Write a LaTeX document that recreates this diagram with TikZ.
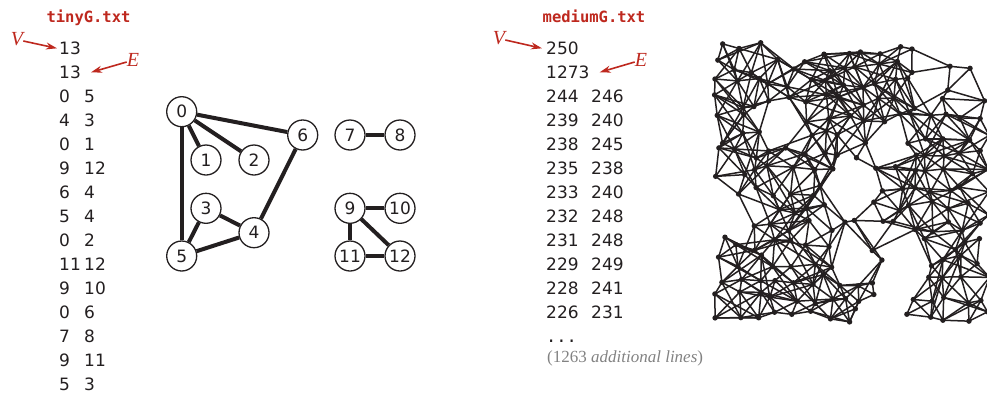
\documentclass[tikz,border=0pt]{standalone}
\usepackage{fontspec}
\usetikzlibrary{arrows.meta}
\newfontfamily\listfont{DejaVu Sans}
\newfontfamily\filefont{DejaVu Sans Mono}
\newfontfamily\notefont{Liberation Serif}
\definecolor{bookred}{RGB}{190,40,30}
\definecolor{ink}{RGB}{35,31,32}
\definecolor{notegray}{RGB}{130,130,130}
\tikzset{
  vert/.style={circle, draw=ink, line width=1.3pt, fill=white, minimum size=30pt,
    inner sep=0pt, text=ink, font=\listfont\fontsize{17}{17}\selectfont},
  gedge/.style={draw=ink, line width=4pt},
  datum/.style={anchor=base west, inner sep=0pt, text=ink,
    font=\listfont\fontsize{17}{17}\selectfont},
  fname/.style={anchor=base, inner sep=0pt, text=bookred,
    font=\filefont\bfseries\fontsize{15.5}{15.5}\selectfont},
  marker/.style={inner sep=0pt, text=bookred, font=\notefont\itshape\fontsize{20}{20}\selectfont},
  pointer/.style={-{Stealth[length=11pt,width=7pt]}, draw=bookred, line width=1.6pt},
  medge/.style={draw=ink, line width=1.5pt},
}
% keep a link of the big graph only if the far end exists
\newcommand\mlink[3]{\ifcsname pgf@sh@ns@#2\endcsname
  \pgfmathtruncatemacro\keep{rnd<#3}\ifnum\keep=1 \draw[medge] (#1) -- (#2);\fi\fi}
\begin{document}
\begin{tikzpicture}[x=1pt,y=-1pt]
\useasboundingbox (0,0) rectangle (987,394);

% tinyG.txt
\node[fname] (tfile) at (88.5,22.5) {tinyG.txt};
\node[datum] (tn1) at (59,54.5) {13};
\node[datum] (tn2) at (59,78.5) {13};
\foreach \a/\b [count=\n from 2] in {0/5,4/3,0/1,9/12,6/4,5/4,0/2,11/12,9/10,0/6,7/8,9/11,5/3}{
  \node[datum] (tl\n) at (59,54.5+24*\n) {\a};
  \node[datum] (tr\n) at (84,54.5+24*\n) {\b};
}
\node[marker] (tV) at (17,39) {V};
\node[marker] (tE) at (133,60) {E};
\draw[pointer] ([yshift=-2pt]tV.east) -- ([xshift=-2pt]tn1.west);
\draw[pointer] ([yshift=-2pt]tE.west) -- ([xshift=10pt]tn2.east);

% the small graph
\node[vert] (t0) at (181.7,111.7) {0};
\node[vert] (t1) at (206,160) {1};
\node[vert] (t2) at (254,160) {2};
\node[vert] (t6) at (302.7,135) {6};
\node[vert] (t3) at (206,208.3) {3};
\node[vert] (t4) at (254,232.7) {4};
\node[vert] (t5) at (181.7,256) {5};
\node[vert] (t7) at (350,135) {7};
\node[vert] (t8) at (400,135) {8};
\node[vert] (t9) at (350,208.3) {9};
\node[vert] (t10) at (400,208.3) {10};
\node[vert] (t11) at (350,256) {11};
\node[vert] (t12) at (400,256) {12};
\foreach \u/\v in {0/5,4/3,0/1,9/12,6/4,5/4,0/2,11/12,9/10,0/6,7/8,9/11,5/3}
  \draw[gedge] (t\u) -- (t\v);

% mediumG.txt
\node[fname] (mfile) at (594,22.5) {mediumG.txt};
\node[datum] (mn1) at (546,54.5) {250};
\node[datum] (mn2) at (546,78.5) {1273};
\foreach \a/\b [count=\n from 2] in {244/246,239/240,238/245,235/238,233/240,232/248,231/248,229/249,228/241,226/231}{
  \node[datum] (ml\n) at (546,54.5+24*\n) {\a};
  \node[datum] (mr\n) at (591,54.5+24*\n) {\b};
}
\node[datum, font=\filefont\fontsize{17}{17}\selectfont] (mdots) at (546,342.5) {...};
\node[anchor=base west, inner sep=0pt, text=notegray, font=\notefont\fontsize{17}{17}\selectfont]
  (mnote) at (547,362) {(1263 \textit{additional lines})};
\node[marker] (mV) at (499,38) {V};
\node[marker] (mE) at (641,60) {E};
\draw[pointer] ([yshift=-2pt]mV.east) -- ([xshift=-4pt]mn1.west);
\draw[pointer] ([yshift=-2pt]mE.west) -- ([xshift=10pt]mn2.east);

% the big graph: jittered points, holes left out
\pgfmathsetseed{42}
\foreach \j/\cols in {0/{0,1,2,6,7,8,9,10,11},
    1/{0,...,11,13,14},
    2/{0,...,11,13},
    3/{0,...,11,13,15},
    4/{0,1,5,6,...,15},
    5/{0,1,2,5,6,7,8,11,12,13,14,15},
    6/{0,...,8,11,12,13,14,15},
    7/{0,...,6,9,10,...,15},
    8/{1,...,6,9,10,...,15},
    9/{3,4,5,6,9,10,...,15},
    10/{2,...,15},
    11/{0,...,6,9,12,13,14,15},
    12/{0,...,6,9,12,13,14,15},
    13/{0,...,9,12,13,14,15},
    14/{0,...,9,11,12,...,15},
    15/{0,...,8,11,12,...,15}}{
  \foreach \i in \cols {
    \pgfmathsetmacro\mx{721+17.5*\i+7*rand}
    \pgfmathsetmacro\my{48+17.8*\j+7*rand}
    \coordinate (m-\i-\j) at (\mx,\my);
  }
}
\foreach \j in {0,...,15}{
  \foreach \i in {0,...,15}{
    \ifcsname pgf@sh@ns@m-\i-\j\endcsname
      \pgfmathtruncatemacro\ip{\i+1}
      \pgfmathtruncatemacro\iq{\i+2}
      \pgfmathtruncatemacro\im{\i-1}
      \pgfmathtruncatemacro\in{\i-2}
      \pgfmathtruncatemacro\jp{\j+1}
      \pgfmathtruncatemacro\jq{\j+2}
      \mlink{m-\i-\j}{m-\ip-\j}{0.95}
      \mlink{m-\i-\j}{m-\i-\jp}{0.95}
      \mlink{m-\i-\j}{m-\ip-\jp}{0.85}
      \mlink{m-\i-\j}{m-\im-\jp}{0.85}
      \mlink{m-\i-\j}{m-\iq-\j}{0.35}
      \mlink{m-\i-\j}{m-\iq-\jp}{0.35}
      \mlink{m-\i-\j}{m-\in-\jp}{0.35}
      \mlink{m-\i-\j}{m-\ip-\jq}{0.35}
      \mlink{m-\i-\j}{m-\im-\jq}{0.35}
    \fi
  }
}
\foreach \j in {0,...,15}{
  \foreach \i in {0,...,15}{
    \ifcsname pgf@sh@ns@m-\i-\j\endcsname
      \fill[ink] (m-\i-\j) circle (2.7pt);
    \fi
  }
}
\end{tikzpicture}
\end{document}
